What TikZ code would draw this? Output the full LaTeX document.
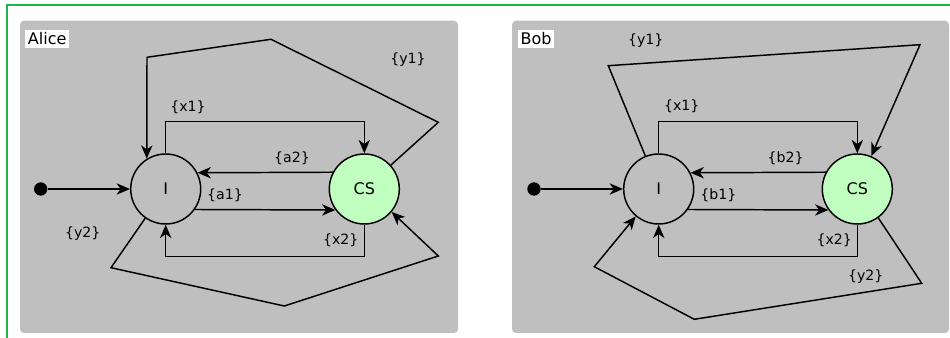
\documentclass[tikz,border=0pt]{standalone}
\usepackage{fontspec}
\setmainfont{DejaVu Sans}
\usetikzlibrary{arrows.meta}
\definecolor{frameG}{RGB}{30,180,80}
\definecolor{panelG}{RGB}{191,191,191}
\definecolor{csG}{RGB}{192,255,192}
\tikzset{
  px/.style={x=0.75pt,y=-0.75pt},
  panel/.style={fill=panelG,draw=none,rounded corners=3pt},
  namebox/.style={fill=white,inner sep=2pt,font=\fontsize{12}{14}\selectfont},
  state/.style={circle,draw=black,line width=1.1pt,minimum size=52.5pt,inner sep=0pt,font=\fontsize{12}{14}\selectfont},
  cstate/.style={state,fill=csG},
  istate/.style={state},
  startdot/.style={circle,fill=black,minimum size=10pt,inner sep=0pt},
  conn/.style={draw=black,line width=1.1pt,-{Stealth[length=10pt,width=8.5pt,inset=3pt]}},
  lbl/.style={font=\fontsize{10.6}{12}\selectfont,inner sep=0pt}
}
\begin{document}
\begin{tikzpicture}[px]
\useasboundingbox (0,0) rectangle (950,338);
\clip (0,0) rectangle (950,338);
\fill[white] (0,0) rectangle (950,338);
\draw[frameG,line width=1.4pt] (7.3,345) -- (7.3,5) -- (960,5);
% panels
\fill[panel] (20,20.7) rectangle (458,333);
\fill[panel] (512,20.7) rectangle (949,333);
\node[namebox,anchor=west] (alicelbl) at (25,39) {Alice};
\node[namebox,anchor=west] (boblbl) at (517.7,39) {Bob};

% ---------- Alice ----------
\node[startdot] (aS) at (40.7,189) {};
\node[istate] (aI) at (165.7,189) {I};
\node[cstate] (aC) at (364.3,189) {CS};
\draw[conn] (aS) -- (aI);
\draw[conn] (aI.north) -- ++(0,-31.5) -| (aC.north);
\draw[conn] (aC.152.8) -- (aI.27.2);
\draw[conn] (aI.-35.5) -- (aC.-144.5);
\draw[conn] (aC.south) -- ++(0,31.7) -| (aI.south);
\coordinate (ay1a) at (438.3,122.3);
\coordinate (ay1b) at (271,39.3);
\coordinate (ay1c) at (147,57.3);
\draw[conn] (aC.42.4) -- (ay1a) -- (ay1b) -- (ay1c) -- (aI.122.3);
\coordinate (ay2a) at (111,267.7);
\coordinate (ay2b) at (284.3,306);
\coordinate (ay2c) at (438.3,256);
\draw[conn] (aI.-125.2) -- (ay2a) -- (ay2b) -- (ay2c) -- (aC.-40.3);
\node[lbl] (ax1) at (188,107) {\{x1\}};
\node[lbl] (aa2) at (292,158) {\{a2\}};
\node[lbl] (aa1) at (225,195.7) {\{a1\}};
\node[lbl] (ax2) at (340.7,240.7) {\{x2\}};
\node[lbl] (ay1) at (408,60) {\{y1\}};
\node[lbl] (ay2) at (82.7,233.3) {\{y2\}};

% ---------- Bob ----------
\node[startdot] (bS) at (534,189) {};
\node[istate] (bI) at (658.7,189) {I};
\node[cstate] (bC) at (857.3,189) {CS};
\draw[conn] (bS) -- (bI);
\draw[conn] (bI.north) -- ++(0,-31.5) -| (bC.north);
\draw[conn] (bC.152.8) -- (bI.27.2);
\draw[conn] (bI.-35.5) -- (bC.-144.5);
\draw[conn] (bC.south) -- ++(0,31.7) -| (bI.south);
\coordinate (by1a) at (608.3,65.7);
\coordinate (by1b) at (920,44.7);
\draw[conn] (bI.112.9) -- (by1a) -- (by1b) -- (bC.67);
\coordinate (by2a) at (921.7,283.3);
\coordinate (by2b) at (694.3,319.3);
\coordinate (by2c) at (594.3,266.7);
\draw[conn] (bC.-54.4) -- (by2a) -- (by2b) -- (by2c) -- (bI.-130);
\node[lbl] (bx1) at (681.7,106.7) {\{x1\}};
\node[lbl] (bb2) at (785.7,158) {\{b2\}};
\node[lbl] (bb1) at (718.3,195.7) {\{b1\}};
\node[lbl] (bx2) at (834.3,240.7) {\{x2\}};
\node[lbl] (by1) at (645.7,40.7) {\{y1\}};
\node[lbl] (by2) at (865.7,276.7) {\{y2\}};
\end{tikzpicture}
\end{document}
